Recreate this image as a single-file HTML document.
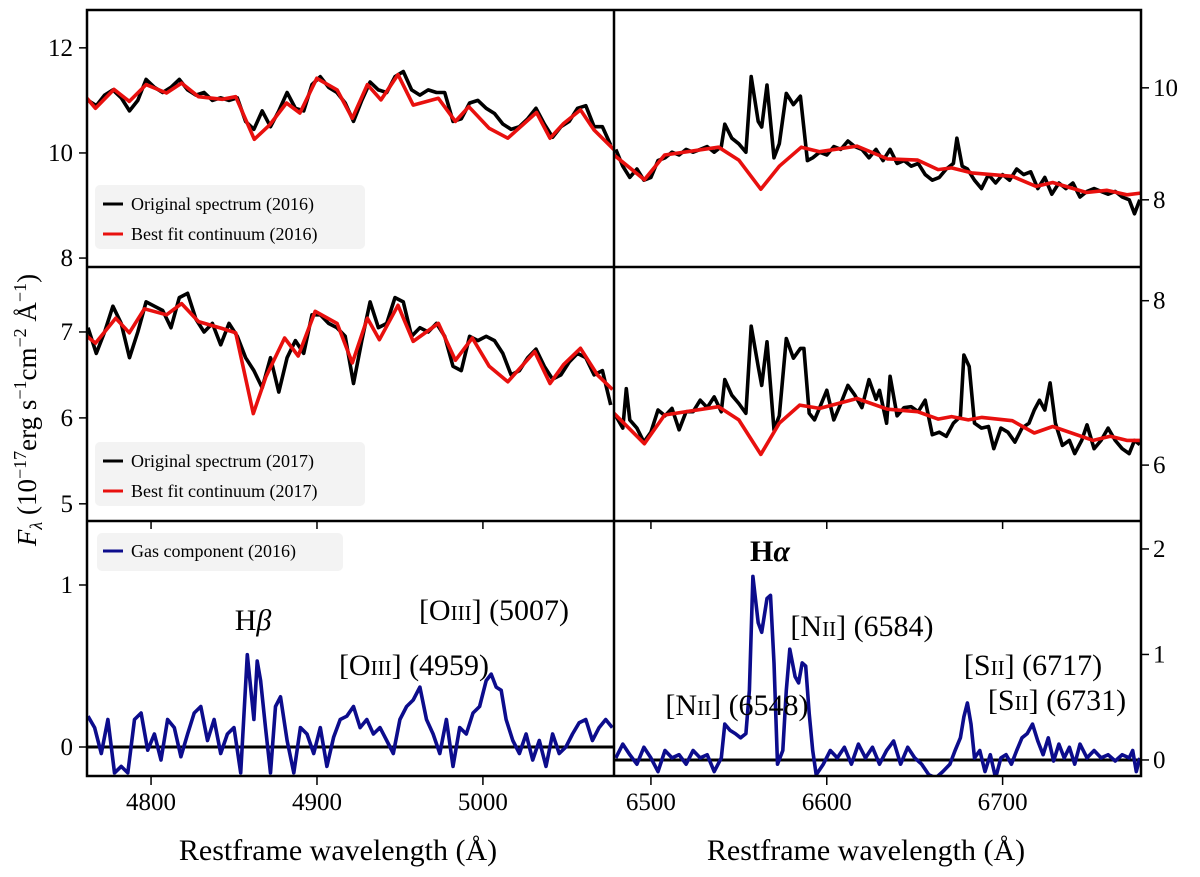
<!DOCTYPE html>
<html><head><meta charset="utf-8"><style>
body{margin:0;background:#fff;font-family:"Liberation Serif",serif;}
svg{display:block;font-family:"Liberation Serif",serif;}
svg text{font-family:"Liberation Serif",serif !important;}
</style></head><body>
<svg id="chart" width="1200" height="877" viewBox="0 0 1200 877" font-family="Liberation Serif">
<g id="marks"></g>
<g id="frame"></g>
<g id="labels" font-size="25" fill="#000" font-family="Liberation Serif" style="font-family:'Liberation Serif',serif"></g>
</svg>
<script>
// ---- data ----
const tlRedWl=[4761.4,4766.5,4777.7,4786.9,4797,4809.3,4818.4,4828.6,4842.9,4851,4862.2,4871.4,4881.6,4889.7,4899.9,4912.1,4921.3,4930.4,4938.6,4948.8,4958,4973.2,4983.4,4991.5,5003.8,5015,5032.3,5040.4,5048.6,5058.8,5066.9,5079.1];
const tlRedFlux=[11.04,10.85,11.21,10.98,11.30,11.14,11.33,11.07,11.02,11.07,10.26,10.53,10.95,10.76,11.42,11.20,10.66,11.30,11.01,11.49,10.91,11.04,10.60,10.88,10.47,10.28,10.77,10.28,10.56,10.82,10.44,10.06];
const leftGridWl=[4762,4767,4772,4777,4782,4787,4792,4797,4802,4807,4812,4817,4822,4827,4832,4837,4842,4847,4852,4857,4862,4867,4872,4877,4882,4887,4892,4897,4902,4907,4912,4917,4922,4927,4932,4937,4942,4947,4952,4957,4962,4967,4972,4977,4982,4987,4992,4997,5002,5007,5012,5017,5022,5027,5032,5037,5042,5047,5052,5057,5062,5067,5072,5077];
const tlBlackFlux=[11.0,10.9,11.1,11.2,11.05,10.8,11.0,11.4,11.25,11.15,11.25,11.4,11.2,11.1,11.15,11.0,11.05,11.0,11.05,10.6,10.45,10.8,10.5,10.8,11.15,10.85,10.8,11.3,11.45,11.25,11.15,10.95,10.6,11.0,11.35,11.2,11.15,11.45,11.55,11.2,11.1,11.2,11.15,11.15,10.6,10.65,10.95,11.0,10.85,10.75,10.55,10.45,10.5,10.65,10.85,10.55,10.3,10.5,10.6,10.85,10.9,10.5,10.5,10.15];
const trRedWl=[6479,6496.3,6507.8,6538.5,6550,6562.5,6573,6585.5,6596,6617.2,6634.5,6651.7,6663.3,6671,6682.5,6705.5,6719,6728.5,6747.7,6759.2,6770.7,6778.4];
const trRedFlux=[8.80,8.36,8.80,8.94,8.71,8.19,8.60,8.94,8.86,8.96,8.73,8.71,8.54,8.57,8.48,8.42,8.24,8.31,8.13,8.17,8.09,8.12];
const trBlackWl=[6480,6484,6488,6492,6496,6500,6504,6508,6512,6516,6520,6524,6528,6532,6536,6540,6542,6546,6550,6554,6557,6561,6563,6566,6570,6573,6577,6581,6585,6589,6592,6596,6600,6604,6608,6612,6616,6620,6624,6628,6632,6636,6640,6644,6648,6652,6656,6660,6664,6668,6672,6674,6677,6680,6684,6688,6692,6696,6700,6704,6708,6712,6716,6720,6724,6728,6732,6736,6740,6744,6748,6752,6756,6760,6764,6768,6772,6775,6778];
const trBlackFlux=[8.9,8.6,8.4,8.55,8.35,8.4,8.7,8.75,8.85,8.8,8.9,8.85,8.9,8.95,8.85,8.95,9.35,9.1,9.0,8.85,10.2,9.4,9.3,10.05,8.75,9.0,9.9,9.7,9.85,8.7,8.75,8.85,8.8,8.95,8.9,9.05,8.95,8.9,8.75,8.9,8.7,8.9,8.65,8.7,8.6,8.65,8.45,8.35,8.4,8.55,8.65,9.1,8.6,8.55,8.35,8.2,8.45,8.3,8.45,8.35,8.55,8.45,8.5,8.2,8.4,8.1,8.3,8.2,8.3,8.05,8.15,8.2,8.15,8.1,8.15,8.05,8.0,7.75,8.0];
const mlRedWl=[4761.4,4766.5,4778.7,4786.9,4796,4809.3,4818.4,4828.6,4842.9,4851,4861.6,4869.3,4880.5,4888.7,4898.9,4912.1,4921.3,4930.4,4937.6,4948.8,4958,4973.2,4983.4,4993.6,5003.8,5015,5031.2,5040.4,5048.6,5058.8,5069,5078.1];
const mlRedFlux=[6.95,6.87,7.16,6.99,7.27,7.20,7.33,7.12,7.04,6.99,6.05,6.48,6.93,6.72,7.24,7.10,6.64,7.16,6.91,7.31,6.89,7.10,6.67,6.93,6.60,6.42,6.77,6.40,6.62,6.81,6.50,6.33];
const mlBlackFlux=[7.05,6.75,7.0,7.3,7.1,6.7,7.0,7.35,7.3,7.25,7.05,7.4,7.45,7.15,7.0,7.1,6.85,7.1,6.95,6.7,6.55,6.35,6.7,6.3,6.7,6.9,6.75,7.2,7.2,7.1,7.05,6.95,6.4,6.9,7.35,7.05,7.1,7.4,7.35,6.95,7.05,7.0,7.1,6.95,6.6,6.55,6.95,6.9,6.95,6.9,6.75,6.5,6.55,6.7,6.8,6.6,6.45,6.5,6.65,6.75,6.7,6.5,6.55,6.15];
const mrRedWl=[6479,6496.3,6507.8,6538.5,6550,6562.5,6573,6584.6,6596,6617.2,6634.5,6651.7,6663.3,6671,6680.5,6688.2,6705.5,6718,6728.5,6751.5,6761.2,6770.7,6778.4];
const mrRedFlux=[6.63,6.26,6.61,6.71,6.55,6.13,6.51,6.73,6.69,6.81,6.68,6.65,6.56,6.59,6.55,6.58,6.54,6.39,6.47,6.30,6.35,6.30,6.30];
const mrBlackWl=[6480,6484,6486,6488,6492,6496,6500,6504,6508,6512,6516,6520,6524,6528,6532,6536,6540,6542,6546,6550,6554,6557,6561,6563,6566,6570,6573,6577,6581,6585,6587,6590,6593,6596,6600,6604,6608,6612,6616,6620,6624,6628,6630,6634,6636,6640,6644,6648,6652,6656,6660,6664,6668,6672,6676,6678,6681,6684,6688,6692,6695,6699,6703,6707,6711,6715,6718,6721,6724,6727,6730,6734,6738,6741,6745,6748,6752,6756,6760,6764,6768,6772,6775,6778];
const mrBlackFlux=[6.6,6.45,6.93,6.55,6.45,6.28,6.4,6.67,6.6,6.69,6.43,6.65,6.65,6.79,6.7,6.83,6.65,7.04,6.85,6.75,6.63,7.69,7.2,6.97,7.5,6.43,6.6,7.54,7.3,7.42,7.42,6.63,6.55,6.7,6.91,6.55,6.75,6.97,6.85,6.7,7.04,6.8,6.91,6.51,7.08,6.6,6.7,6.71,6.65,6.79,6.37,6.4,6.35,6.51,6.59,7.34,7.2,6.51,6.45,6.47,6.2,6.45,6.4,6.28,6.45,6.51,6.67,6.79,6.67,7.0,6.51,6.24,6.3,6.14,6.3,6.49,6.2,6.3,6.45,6.3,6.2,6.14,6.3,6.25];
const blWl=[4762,4766,4770,4774,4778,4782,4786,4790,4794,4798,4802,4806,4810,4814,4818,4822,4826,4830,4834,4838,4842,4846,4850,4854,4858,4860,4862,4864,4866,4869,4872,4875,4878,4882,4886,4890,4894,4898,4902,4906,4910,4914,4918,4922,4926,4930,4934,4938,4942,4946,4950,4954,4958,4962,4966,4970,4974,4978,4982,4986,4990,4994,4998,5002,5005,5008,5011,5014,5018,5022,5026,5030,5034,5038,5042,5046,5050,5054,5058,5062,5066,5070,5074,5078];
const blGas=[0.19,0.12,-0.04,0.17,-0.16,-0.12,-0.16,0.17,0.21,-0.02,0.08,-0.08,0.17,0.12,-0.06,0.08,0.21,0.25,0.04,0.17,-0.04,0.08,0.12,-0.16,0.57,0.37,0.17,0.53,0.41,0.12,-0.16,0.25,0.31,0.04,-0.16,0.12,0.08,-0.04,0.12,-0.12,0.06,0.17,0.19,0.25,0.12,0.17,0.08,0.12,0.04,-0.04,0.17,0.25,0.29,0.37,0.17,0.08,-0.04,0.17,-0.12,0.12,0.08,0.21,0.25,0.41,0.45,0.37,0.35,0.17,0.04,-0.04,0.08,-0.08,0.04,-0.12,0.08,-0.04,0.0,0.08,0.15,0.17,0.04,0.12,0.17,0.12];
const brWl=[6480,6484,6488,6492,6496,6500,6504,6508,6512,6516,6520,6524,6528,6532,6536,6540,6542,6545,6548,6551,6554,6556,6558,6561,6563,6566,6568,6570,6572,6575,6577,6579,6582,6584,6586,6588,6590,6592,6594,6598,6602,6606,6610,6614,6618,6622,6626,6630,6634,6638,6642,6646,6650,6654,6658,6662,6666,6670,6673,6676,6678,6680,6682,6684,6687,6690,6693,6696,6699,6702,6705,6708,6711,6714,6717,6720,6723,6726,6729,6732,6735,6738,6741,6744,6748,6752,6756,6760,6764,6768,6772,6774,6776,6778];
const brGas=[0.02,0.15,0.05,-0.04,0.12,0.02,-0.11,0.09,0.02,0.05,-0.04,0.09,0.02,0.05,-0.11,0.02,0.34,0.28,0.25,0.21,0.25,0.66,1.74,1.30,1.21,1.53,1.56,0.92,-0.04,0.09,0.66,1.05,0.79,0.73,0.92,0.89,0.44,0.09,-0.14,-0.04,0.09,0.02,0.12,-0.04,0.15,0.02,0.12,-0.04,0.09,0.18,-0.04,0.12,0.02,-0.04,-0.14,-0.17,-0.11,-0.04,0.09,0.21,0.41,0.54,0.34,0.02,0.09,-0.11,0.05,-0.17,0.02,0.05,-0.04,0.09,0.21,0.25,0.34,0.18,0.05,0.21,-0.01,0.15,0.02,0.12,-0.04,0.15,0.02,0.09,0.02,0.05,-0.01,0.05,0.02,0.09,-0.11,0.02];
const leftXTicks=[4800,4900,5000];
const rightXTicks=[6500,6600,6700];
const tlYTicks=[8,10,12], trYTicks=[8,10], mlYTicks=[5,6,7], mrYTicks=[6,8], blYTicks=[0,1], brYTicks=[0,1,2];

// ---- axes ----
const NS='http://www.w3.org/2000/svg';
const L0=87,L1=614,R1=1141;
const rows=[[10,267],[267,521],[521,776]];
const xL=w=>L0+(w-4761.4)/(5079-4761.4)*(L1-L0);
const xR=w=>L1+(w-6479)/(6778.7-6479)*(R1-L1);
function yScale(row,vTop,vBot){const [t,b]=rows[row];return v=>t+(vTop-v)/(vTop-vBot)*(b-t);}
const yTL=yScale(0,12.72,7.83), yTR=yScale(0,11.39,6.80);
const yML=yScale(1,7.756,4.80), yMR=yScale(1,8.41,5.32);
const yBL=yScale(2,1.395,-0.179), yBR=yScale(2,2.265,-0.152);

const marks=document.getElementById('marks'), frame=document.getElementById('frame'), labels=document.getElementById('labels');
function mk(tag,attrs,parent){const e=document.createElementNS(NS,tag);for(const k in attrs)e.setAttribute(k,attrs[k]);parent.appendChild(e);return e;}
function clip(id,x0,x1,row){const c=mk('clipPath',{id:id},marks);mk('rect',{x:x0,y:rows[row][0],width:x1-x0,height:rows[row][1]-rows[row][0]},c);}
clip('cTL',L0,L1,0);clip('cTR',L1,R1,0);clip('cML',L0,L1,1);clip('cMR',L1,R1,1);clip('cBL',L0,L1,2);clip('cBR',L1,R1,2);
function line(wl,fl,xf,yf,color,cid,name){
  const pts=wl.map((w,i)=>xf(w).toFixed(1)+','+yf(fl[i]).toFixed(1)).join(' ');
  const p=mk('polyline',{points:pts,fill:'none',stroke:color,'stroke-width':3.6,'stroke-linejoin':'round','clip-path':'url(#'+cid+')'},marks);
  
  
}
const z1=mk('line',{x1:L0,x2:L1,y1:yBL(0),y2:yBL(0),stroke:'#000','stroke-width':3},marks);


const z2=mk('line',{x1:L1,x2:R1,y1:yBR(0),y2:yBR(0),stroke:'#000','stroke-width':3},marks);



line(leftGridWl,tlBlackFlux,xL,yTL,'#000','cTL','original-spectrum-2016-blue-region');
line(tlRedWl,tlRedFlux,xL,yTL,'#e8100e','cTL','best-fit-2016-blue-region');
line(trBlackWl,trBlackFlux,xR,yTR,'#000','cTR','original-spectrum-2016-red-region');
line(trRedWl,trRedFlux,xR,yTR,'#e8100e','cTR','best-fit-2016-red-region');
line(leftGridWl,mlBlackFlux,xL,yML,'#000','cML','original-spectrum-2017-blue-region');
line(mlRedWl,mlRedFlux,xL,yML,'#e8100e','cML','best-fit-2017-blue-region');
line(mrBlackWl,mrBlackFlux,xR,yMR,'#000','cMR','original-spectrum-2017-red-region');
line(mrRedWl,mrRedFlux,xR,yMR,'#e8100e','cMR','best-fit-2017-red-region');
line(blWl,blGas,xL,yBL,'#0c0c8c','cBL','gas-component-blue-region');
line(brWl,brGas,xR,yBR,'#0c0c8c','cBR','gas-component-red-region');

mk('rect',{x:L0,y:10,width:R1-L0,height:766,fill:'none',stroke:'#000','stroke-width':2.5},frame);
mk('line',{x1:L1,x2:L1,y1:10,y2:776,stroke:'#000','stroke-width':2.5},frame);
mk('line',{x1:L0,x2:R1,y1:267,y2:267,stroke:'#000','stroke-width':2.5},frame);
mk('line',{x1:L0,x2:R1,y1:521,y2:521,stroke:'#000','stroke-width':2.5},frame);

function txt(x,y,s,anchor,name){const t=mk('text',{x:x,y:y,'text-anchor':anchor||'middle','font-family':'Liberation Serif','font-size':'25'},labels);t.style.fontFamily="'Liberation Serif', serif";t.textContent=String(s);
  
  return t;}
leftXTicks.forEach(v=>{const x=xL(v);mk('line',{x1:x,x2:x,y1:776,y2:785,stroke:'#000','stroke-width':1.5},frame);mk('line',{x1:x,x2:x,y1:521,y2:529,stroke:'#000','stroke-width':1.5},frame);txt(x,810,v,'middle','x-tick-label');});
rightXTicks.forEach(v=>{const x=xR(v);mk('line',{x1:x,x2:x,y1:776,y2:785,stroke:'#000','stroke-width':1.5},frame);mk('line',{x1:x,x2:x,y1:521,y2:529,stroke:'#000','stroke-width':1.5},frame);txt(x,810,v,'middle','x-tick-label');});
function yt(ticks,yf,side){ticks.forEach(v=>{const y=yf(v);if(side==='L'){mk('line',{x1:L0-8,x2:L0,y1:y,y2:y,stroke:'#000','stroke-width':1.5},frame);txt(L0-14,y+8,v,'end','y-tick-label');}else{mk('line',{x1:R1,x2:R1+8,y1:y,y2:y,stroke:'#000','stroke-width':1.5},frame);txt(R1+12,y+8,v,'start','y-tick-label');}});}
yt(tlYTicks,yTL,'L');yt(trYTicks,yTR,'R');yt(mlYTicks,yML,'L');yt(mrYTicks,yMR,'R');yt(blYTicks,yBL,'L');yt(brYTicks,yBR,'R');
</script>
<svg width="1200" height="877" style="position:absolute;left:0;top:0" font-family="Liberation Serif, serif">
<text x="338" y="860" font-size="30" text-anchor="middle">Restframe wavelength (Å)</text>
<text x="866" y="860" font-size="30" text-anchor="middle">Restframe wavelength (Å)</text>
<text transform="translate(36,410) rotate(-90)" font-size="27" text-anchor="middle"><tspan font-style="italic">F</tspan><tspan font-style="italic" font-size="18" dy="6">λ</tspan><tspan dy="-6"> (10</tspan><tspan font-size="18" dy="-10">−17</tspan><tspan dy="10">erg s</tspan><tspan font-size="18" dy="-10">−1</tspan><tspan dy="10">cm</tspan><tspan font-size="18" dy="-10">−2</tspan><tspan dy="10"> Å</tspan><tspan font-size="18" dy="-10">−1</tspan><tspan dy="10">)</tspan></text>
<g>
<rect x="95" y="185" width="270" height="64" rx="5" fill="#f2f2f2" opacity="0.9"/>
<line x1="103" x2="123" y1="204" y2="204" stroke="#000" stroke-width="3"/>
<text x="131" y="210" font-size="18">Original spectrum (2016)</text>
<line x1="103" x2="123" y1="234" y2="234" stroke="#e8100e" stroke-width="3"/>
<text x="131" y="240" font-size="18">Best fit continuum (2016)</text>
</g>
<g>
<rect x="95" y="442" width="270" height="64" rx="5" fill="#f2f2f2" opacity="0.9"/>
<line x1="103" x2="123" y1="461" y2="461" stroke="#000" stroke-width="3"/>
<text x="131" y="467" font-size="18">Original spectrum (2017)</text>
<line x1="103" x2="123" y1="491" y2="491" stroke="#e8100e" stroke-width="3"/>
<text x="131" y="497" font-size="18">Best fit continuum (2017)</text>
</g>
<g>
<rect x="97" y="533" width="246" height="38" rx="5" fill="#f2f2f2" opacity="0.9"/>
<line x1="103" x2="123" y1="551" y2="551" stroke="#0c0c8c" stroke-width="3"/>
<text x="131" y="557" font-size="18">Gas component (2016)</text>
</g>
<g font-size="30">
<text x="253" y="630" text-anchor="middle">H<tspan font-style="italic">β</tspan></text>
<text x="414" y="675" text-anchor="middle">[O<tspan font-size="21">III</tspan>] (4959)</text>
<text x="494" y="620" text-anchor="middle">[O<tspan font-size="21">III</tspan>] (5007)</text>
<text x="770" y="561" text-anchor="middle" font-weight="bold">H<tspan font-style="italic">α</tspan></text>
<text x="862" y="636" text-anchor="middle">[N<tspan font-size="21">II</tspan>] (6584)</text>
<text x="737" y="715" text-anchor="middle">[N<tspan font-size="21">II</tspan>] (6548)</text>
<text x="1033" y="675" text-anchor="middle">[S<tspan font-size="21">II</tspan>] (6717)</text>
<text x="1057" y="710" text-anchor="middle">[S<tspan font-size="21">II</tspan>] (6731)</text>
</g>
</svg>
</svg>
</body></html>
